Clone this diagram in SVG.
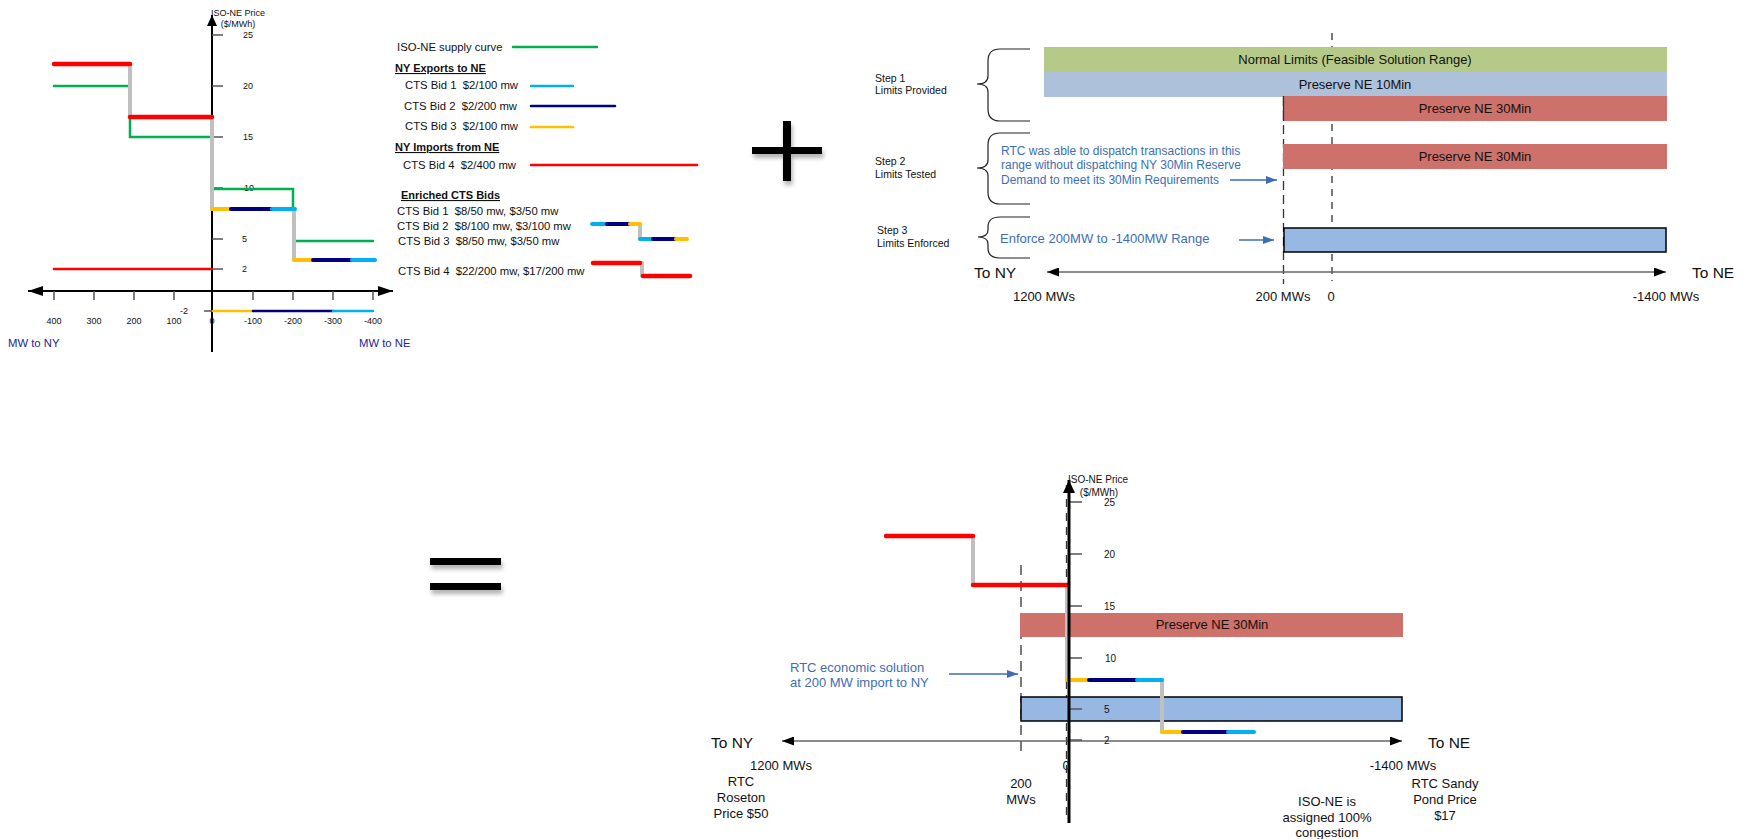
<svg xmlns="http://www.w3.org/2000/svg" width="1746" height="839" viewBox="0 0 1746 839">
<defs>
<style>
text{font-family:"Liberation Sans",Arial,sans-serif;fill:#111}
.t9{font-size:9px}
.t10{font-size:10px}
.t105{font-size:10.5px}
.t11{font-size:11.3px;white-space:pre}
.tb{font-size:11px;font-weight:bold;text-decoration:underline}
.t13{font-size:13px}
.t15{font-size:15.5px}
.blue{fill:#3d6eb4}
.navy{fill:#23239b}
.mid{text-anchor:middle}
.ax{stroke:#000;fill:none}
.tick{stroke:#555;stroke-width:1.5}
.gr{stroke:#00b050;stroke-width:2.5;fill:none;stroke-linecap:round}
.gy{stroke:#c0c0c0;stroke-width:4;stroke-linecap:round}
.rd{stroke:#ff0000;stroke-width:4.5;stroke-linecap:round}
.rdt{stroke:#ff0000;stroke-width:2.5;stroke-linecap:round}
.yl{stroke:#ffc000;stroke-width:4;stroke-linecap:round}
.nv{stroke:#000080;stroke-width:4;stroke-linecap:round}
.lb{stroke:#00b0f0;stroke-width:4;stroke-linecap:round}
.thin{stroke-width:2.5}
.dash{stroke:#333;stroke-width:1.3;fill:none}
.brace{stroke:#222;stroke-width:1.2;fill:none}
.barG{fill:#b5ca88}
.barS{fill:#adc1db}
.barR{fill:#cd716a}
.barB{fill:#98b8e4;stroke:#000;stroke-width:1.5}
.bluearrow{stroke:#3d6eb4;stroke-width:1.3;fill:none}
.sym{fill:#000}
</style>
<marker id="ahBig" viewBox="0 0 15 10" refX="15" refY="5" markerWidth="15" markerHeight="10" markerUnits="userSpaceOnUse" orient="auto-start-reverse"><path d="M0,0 L15,5 L0,10 z" fill="#000"/></marker>
<marker id="ahY" viewBox="0 0 11 10" refX="11" refY="5" markerWidth="11" markerHeight="10" markerUnits="userSpaceOnUse" orient="auto-start-reverse"><path d="M0,0 L11,5 L0,10 z" fill="#000"/></marker>
<marker id="ahY2" viewBox="0 0 13 12" refX="13" refY="6" markerWidth="13" markerHeight="12" markerUnits="userSpaceOnUse" orient="auto-start-reverse"><path d="M0,0 L13,6 L0,12 z" fill="#000"/></marker>
<marker id="ahS" viewBox="0 0 12 9" refX="12" refY="4.5" markerWidth="12" markerHeight="9" markerUnits="userSpaceOnUse" orient="auto-start-reverse"><path d="M0,0 L12,4.5 L0,9 z" fill="#000"/></marker>
<marker id="ahB" viewBox="0 0 11 8" refX="11" refY="4" markerWidth="11" markerHeight="8" markerUnits="userSpaceOnUse" orient="auto"><path d="M0,0 L11,4 L0,8 z" fill="#3d6eb4"/></marker>
<filter id="shadow" x="-20%" y="-20%" width="150%" height="160%"><feDropShadow dx="1.5" dy="4" stdDeviation="2" flood-color="#000" flood-opacity="0.3"/></filter>
</defs>
<rect width="1746" height="839" fill="#fff"/>

<!-- ===== Top-left chart ===== -->
<g id="chart1">
  <g id="chart1-axes">
    <line class="ax" x1="212" y1="352" x2="212" y2="15" stroke-width="2" marker-end="url(#ahY)"/>
    <line class="ax" x1="28" y1="291" x2="393" y2="291" stroke-width="2" marker-start="url(#ahBig)" marker-end="url(#ahBig)"/>
    <g class="tick">
      <line x1="212" y1="35" x2="223" y2="35"/><line x1="212" y1="86" x2="223" y2="86"/>
      <line x1="212" y1="137" x2="223" y2="137"/><line x1="212" y1="188" x2="223" y2="188"/>
      <line x1="212" y1="239" x2="223" y2="239"/><line x1="212" y1="269" x2="223" y2="269"/>
      <line x1="204" y1="311" x2="212" y2="311"/>
      <line x1="54" y1="291" x2="54" y2="300"/><line x1="94" y1="291" x2="94" y2="300"/>
      <line x1="134" y1="291" x2="134" y2="300"/><line x1="174" y1="291" x2="174" y2="300"/>
      <line x1="253" y1="291" x2="253" y2="300"/><line x1="293" y1="291" x2="293" y2="300"/>
      <line x1="333" y1="291" x2="333" y2="300"/><line x1="373" y1="291" x2="373" y2="300"/>
    </g>
    <text class="t9" x="211" y="16">ISO-NE Price</text>
    <text class="t9 mid" x="238" y="27">($/MWh)</text>
    <text class="t9" x="243" y="38">25</text>
    <text class="t9" x="243" y="89">20</text>
    <text class="t9" x="243" y="140">15</text>
    <text class="t9" x="244" y="191">10</text>
    <text class="t9" x="242" y="242">5</text>
    <text class="t9" x="242" y="272">2</text>
    <text class="t9" x="180" y="314">-2</text>
    <text class="t9 mid" x="54" y="324">400</text>
    <text class="t9 mid" x="94" y="324">300</text>
    <text class="t9 mid" x="134" y="324">200</text>
    <text class="t9 mid" x="174" y="324">100</text>
    <text class="t9 mid" x="212" y="324">0</text>
    <text class="t9 mid" x="253" y="324">-100</text>
    <text class="t9 mid" x="293" y="324">-200</text>
    <text class="t9 mid" x="333" y="324">-300</text>
    <text class="t9 mid" x="373" y="324">-400</text>
    <text class="t11 navy" x="8" y="347">MW to NY</text>
    <text class="t11 navy" x="359" y="347">MW to NE</text>
  </g>
  <g id="chart1-curves">
    <path class="gr" d="M54,86 H130 V137 H212"/>
    <path class="gr" d="M212,189 H293 V209"/>
    <path class="gr" d="M294,241 H373"/>
    <line class="gy" x1="130" y1="64" x2="130" y2="117"/>
    <line class="gy" x1="212" y1="117" x2="212" y2="209"/>
    <line class="gy" x1="294" y1="209" x2="294" y2="260"/>
    <line class="rd" x1="54" y1="64" x2="130" y2="64"/>
    <line class="rd" x1="130" y1="117" x2="212" y2="117"/>
    <line class="rdt" x1="54" y1="269" x2="212" y2="269"/>
    <line class="yl" x1="212" y1="209" x2="231" y2="209"/>
    <line class="nv" x1="231" y1="209" x2="272" y2="209"/>
    <line class="lb" x1="272" y1="209" x2="295" y2="209"/>
    <line class="yl" x1="294" y1="260" x2="313" y2="260"/>
    <line class="nv" x1="313" y1="260" x2="352" y2="260"/>
    <line class="lb" x1="352" y1="260" x2="375" y2="260"/>
    <line class="yl thin" x1="213" y1="311" x2="253" y2="311"/>
    <line class="nv thin" x1="253" y1="311" x2="333" y2="311"/>
    <line class="lb thin" x1="333" y1="311" x2="373" y2="311"/>
  </g>
</g>

<!-- ===== Legend ===== -->
<g id="legend">
  <text class="t11" x="397" y="51">ISO-NE supply curve</text>
  <line class="gr" x1="513" y1="47" x2="597" y2="47"/>
  <text class="tb" x="395" y="72">NY Exports to NE</text>
  <text class="t11" x="405" y="89" xml:space="preserve">CTS Bid 1  $2/100 mw</text>
  <line class="lb thin" x1="531" y1="86" x2="573" y2="86"/>
  <text class="t11" x="404" y="110" xml:space="preserve">CTS Bid 2  $2/200 mw</text>
  <line class="nv thin" x1="531" y1="106" x2="615" y2="106"/>
  <text class="t11" x="405" y="130" xml:space="preserve">CTS Bid 3  $2/100 mw</text>
  <line class="yl thin" x1="531" y1="127" x2="573" y2="127"/>
  <text class="tb" x="395" y="151">NY Imports from NE</text>
  <text class="t11" x="403" y="169" xml:space="preserve">CTS Bid 4  $2/400 mw</text>
  <line class="rdt" x1="531" y1="165" x2="697" y2="165"/>
  <text class="tb" x="401" y="199">Enriched CTS Bids</text>
  <text class="t11" x="397" y="215" xml:space="preserve">CTS Bid 1  $8/50 mw, $3/50 mw</text>
  <text class="t11" x="397" y="230" xml:space="preserve">CTS Bid 2  $8/100 mw, $3/100 mw</text>
  <text class="t11" x="398" y="245" xml:space="preserve">CTS Bid 3  $8/50 mw, $3/50 mw</text>
  <text class="t11" x="398" y="275" xml:space="preserve">CTS Bid 4  $22/200 mw, $17/200 mw</text>
  <g id="legend-mini">
    <line class="gy" x1="640" y1="224" x2="640" y2="239" stroke-width="3"/>
    <line class="lb" x1="592" y1="224" x2="607" y2="224" stroke-width="3.5"/>
    <line class="nv" x1="607" y1="224" x2="630" y2="224" stroke-width="3.5"/>
    <line class="yl" x1="630" y1="224" x2="640" y2="224" stroke-width="3.5"/>
    <line class="lb" x1="640" y1="239" x2="653" y2="239" stroke-width="3.5"/>
    <line class="nv" x1="653" y1="239" x2="676" y2="239" stroke-width="3.5"/>
    <line class="yl" x1="676" y1="239" x2="687" y2="239" stroke-width="3.5"/>
    <line class="gy" x1="642" y1="263" x2="642" y2="276" stroke-width="3"/>
    <line class="rd" x1="593" y1="263" x2="640" y2="263" stroke-width="4"/>
    <line class="rd" x1="643" y1="276" x2="690" y2="276" stroke-width="4"/>
  </g>
</g>

<!-- ===== Plus and equal signs ===== -->
<g id="plus" filter="url(#shadow)">
  <rect class="sym" x="783" y="121" width="8" height="60"/>
  <rect class="sym" x="752" y="147" width="70" height="7"/>
</g>
<g id="equals" filter="url(#shadow)">
  <rect class="sym" x="430" y="558" width="71" height="7"/>
  <rect class="sym" x="430" y="583" width="71" height="7"/>
</g>

<!-- ===== Top-right limits panel ===== -->
<g id="limits">
  <line class="dash" x1="1332" y1="33" x2="1332" y2="281" stroke-dasharray="7,6"/>
  <line class="dash" x1="1283.5" y1="97" x2="1283.5" y2="284" stroke-dasharray="9,5"/>
  <g id="bar-normal">
    <rect class="barG" x="1044" y="47" width="623" height="25"/>
    <text class="t13 mid" x="1355" y="63.5">Normal Limits (Feasible Solution Range)</text>
  </g>
  <g id="bar-10min">
    <rect class="barS" x="1044" y="72" width="623" height="25"/>
    <text class="t13 mid" x="1355" y="88.5">Preserve NE 10Min</text>
  </g>
  <g id="bar-30min-1">
    <rect class="barR" x="1283" y="96" width="384" height="25"/>
    <line x1="1283.5" y1="96" x2="1283.5" y2="121" stroke="#333" stroke-width="1.3"/>
    <text class="t13 mid" x="1475" y="112.5">Preserve NE 30Min</text>
  </g>
  <g id="bar-30min-2">
    <rect class="barR" x="1283" y="144" width="384" height="25"/>
    <text class="t13 mid" x="1475" y="160.5">Preserve NE 30Min</text>
  </g>
  <g id="bar-enforced">
    <rect class="barB" x="1284" y="228" width="382" height="24"/>
  </g>
  <g id="steps">
    <path class="brace" d="M1030,49 H1000 Q988,49 988,61 V76 Q988,84 977,84 Q988,84 988,92 V109 Q988,121 1000,121 H1030"/>
    <path class="brace" d="M1030,133 H1000 Q988,133 988,145 V160 Q988,168 977,168 Q988,168 988,176 V192 Q988,204 1000,204 H1030"/>
    <path class="brace" d="M1030,217 H1000 Q988,217 988,227 V230 Q988,237 978,237 Q988,237 988,244 V248 Q988,258 1000,258 H1030"/>
    <text class="t105" x="875" y="82">Step 1</text>
    <text class="t105" x="875" y="94">Limits Provided</text>
    <text class="t105" x="875" y="165">Step 2</text>
    <text class="t105" x="875" y="178">Limits Tested</text>
    <text class="t105" x="877" y="234">Step 3</text>
    <text class="t105" x="877" y="247">Limits Enforced</text>
  </g>
  <g id="note-tested">
    <text class="t13 blue" x="1001" y="155" style="font-size:12px">RTC was able to dispatch transactions in this</text>
    <text class="t13 blue" x="1001" y="169" style="font-size:12px">range without dispatching NY 30Min Reserve</text>
    <text class="t13 blue" x="1001" y="184" style="font-size:12px">Demand to meet its 30Min Requirements</text>
  </g>
  <g id="note-enforced">
    <text class="t13 blue" x="1000" y="242.5">Enforce 200MW to -1400MW Range</text>
  </g>
  <g id="limits-axis">
    <line x1="1047" y1="272" x2="1666" y2="272" stroke="#666" stroke-width="1.5" marker-start="url(#ahS)" marker-end="url(#ahS)"/>
    <text class="t15" x="974" y="277.5">To NY</text>
    <text class="t15" x="1692" y="277.5">To NE</text>
    <text class="t13 mid" x="1044" y="300.5">1200 MWs</text>
    <text class="t13 mid" x="1283" y="300.5">200 MWs</text>
    <text class="t13 mid" x="1331" y="300.5">0</text>
    <text class="t13 mid" x="1666" y="300.5">-1400 MWs</text>
  </g>
</g>

<!-- ===== Bottom result chart ===== -->
<g id="result">
  <line class="dash" x1="1021" y1="565" x2="1021" y2="753" stroke-dasharray="10,6"/>
  <line class="dash" x1="1066.5" y1="485" x2="1066.5" y2="820" stroke-dasharray="8,6"/>
  <g id="result-bar-30min">
    <rect class="barR" x="1020" y="613" width="383" height="24"/>
    <text class="t13 mid" x="1212" y="628.5">Preserve NE 30Min</text>
  </g>
  <g id="result-bar-enforced">
    <rect class="barB" x="1021" y="697" width="381" height="24"/>
  </g>
  <g id="result-axes">
    <line x1="782" y1="741" x2="1402" y2="741" stroke="#666" stroke-width="1.5" marker-start="url(#ahS)" marker-end="url(#ahS)"/>
    <g class="tick">
      <line x1="1069" y1="502" x2="1082" y2="502"/><line x1="1069" y1="554" x2="1082" y2="554"/>
      <line x1="1069" y1="606" x2="1082" y2="606"/><line x1="1069" y1="658" x2="1082" y2="658"/>
      <line x1="1069" y1="709" x2="1082" y2="709"/><line x1="1069" y1="740" x2="1082" y2="740"/>
    </g>
    <text class="t10" x="1068" y="482.5">ISO-NE Price</text>
    <text class="t10 mid" x="1099" y="495.5">($/MWh)</text>
    <text class="t10" x="1104" y="505.5">25</text>
    <text class="t10" x="1104" y="557.5">20</text>
    <text class="t10" x="1104" y="609.5">15</text>
    <text class="t10" x="1105" y="661.5">10</text>
    <text class="t10" x="1104" y="712.5">5</text>
    <text class="t10" x="1104" y="743.5">2</text>
  </g>
  <g id="result-curves">
    <line class="gy" x1="973" y1="536" x2="973" y2="585"/>
    <line class="gy" x1="1067" y1="585" x2="1067" y2="680"/>
    <line class="gy" x1="1162" y1="680" x2="1162" y2="732"/>
    <line class="rd" x1="886" y1="536" x2="973" y2="536"/>
    <line class="rd" x1="973" y1="585" x2="1067" y2="585"/>
    <line class="yl" x1="1067" y1="680" x2="1089" y2="680"/>
    <line class="nv" x1="1089" y1="680" x2="1137" y2="680"/>
    <line class="lb" x1="1137" y1="680" x2="1162" y2="680"/>
    <line class="yl" x1="1162" y1="732" x2="1183" y2="732"/>
    <line class="nv" x1="1183" y1="732" x2="1228" y2="732"/>
    <line class="lb" x1="1228" y1="732" x2="1254" y2="732"/>
  </g>
  <line class="ax" x1="1069" y1="823" x2="1069" y2="480" stroke-width="3" marker-end="url(#ahY2)"/>
  <g id="result-labels">
    <text class="t15" x="711" y="747.5">To NY</text>
    <text class="t15" x="1428" y="747.5">To NE</text>
    <text class="t13 mid" x="781" y="769.5">1200 MWs</text>
    <text class="t13 mid" x="1066" y="769.5">0</text>
    <text class="t13 mid" x="1403" y="769.5">-1400 MWs</text>
    <text class="t13 mid" x="741" y="785.5">RTC</text>
    <text class="t13 mid" x="741" y="801.5">Roseton</text>
    <text class="t13 mid" x="741" y="817.5">Price $50</text>
    <text class="t13 mid" x="1021" y="787.5">200</text>
    <text class="t13 mid" x="1021" y="803.5">MWs</text>
    <text class="t13 mid" x="1445" y="787.5">RTC Sandy</text>
    <text class="t13 mid" x="1445" y="803.5">Pond Price</text>
    <text class="t13 mid" x="1445" y="820">$17</text>
    <text class="t13 mid" x="1327" y="805.5">ISO-NE is</text>
    <text class="t13 mid" x="1327" y="821.5">assigned 100%</text>
    <text class="t13 mid" x="1327" y="836.5">congestion</text>
  </g>
  <g id="note-solution">
    <text class="t13 blue" x="790" y="671.5">RTC economic solution</text>
    <text class="t13 blue" x="790" y="686.5">at 200 MW import to NY</text>
  </g>
</g>

<!-- ===== Connectors ===== -->
<g id="connectors">
  <line class="bluearrow" x1="1230" y1="180" x2="1277" y2="180" marker-end="url(#ahB)"/>
  <line class="bluearrow" x1="1239" y1="240" x2="1274" y2="240" marker-end="url(#ahB)"/>
  <line class="bluearrow" x1="949" y1="674" x2="1018" y2="674" marker-end="url(#ahB)"/>
</g>
</svg>
